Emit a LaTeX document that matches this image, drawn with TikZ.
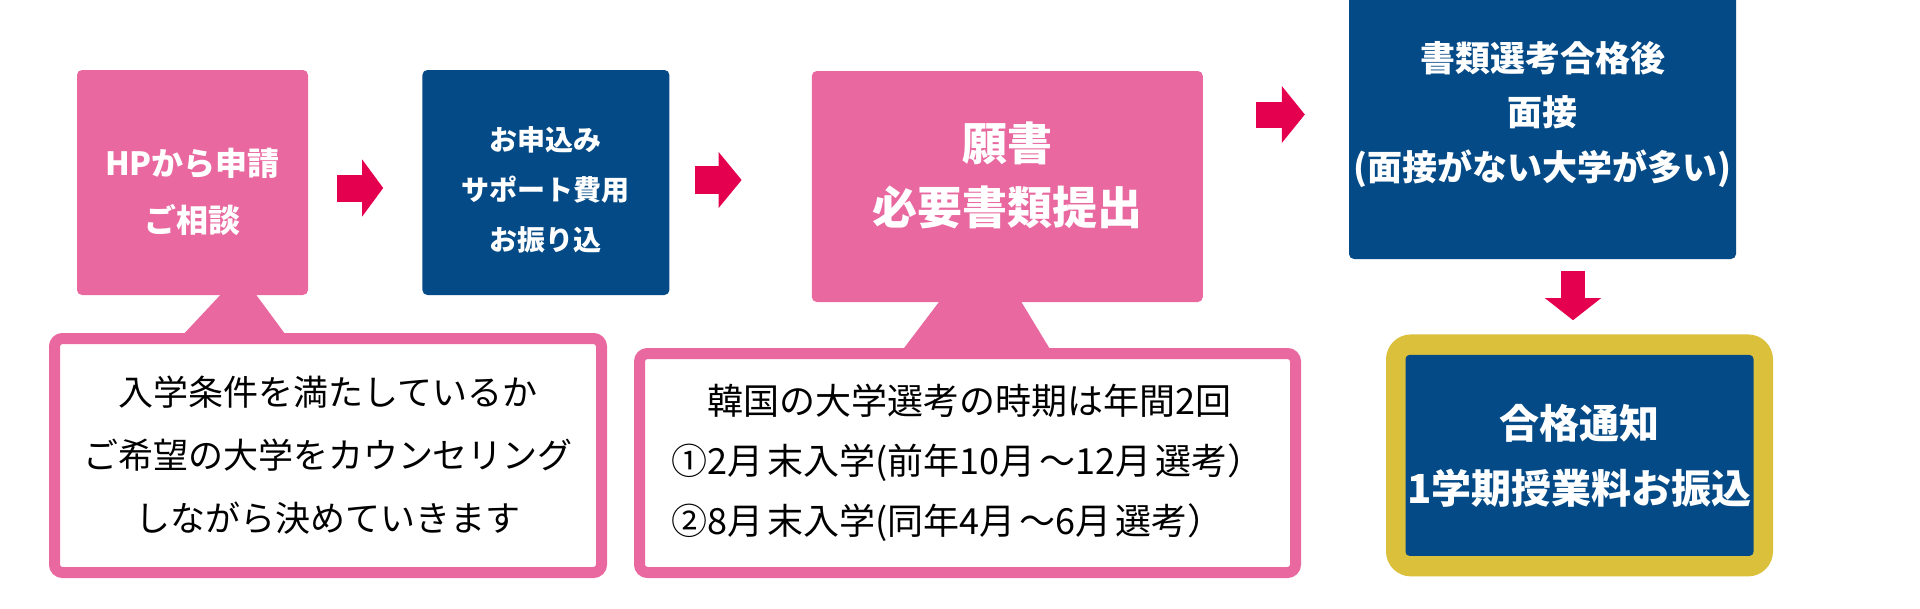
\documentclass[tikz,border=0pt]{standalone}
\usepackage{fontspec}
\setmainfont{Noto Sans CJK JP}
\usetikzlibrary{arrows.meta,positioning}
\definecolor{boxpink}{HTML}{E8689F}
\definecolor{boxnavy}{HTML}{034A86}
\definecolor{arrowred}{HTML}{E4004E}
\definecolor{framegold}{HTML}{DAC03B}
\tikzset{
  pinkbox/.style={fill=boxpink, rounded corners=5pt, inner sep=0pt},
  navybox/.style={fill=boxnavy, rounded corners=5pt, inner sep=0pt},
  boxtext/.style={text=white, align=center},
  goldframe/.style={fill=framegold, rounded corners=25pt, inner sep=0pt},
  note/.style={draw=boxpink, fill=white, line width=11pt, rounded corners=8pt, inner sep=0pt},
  bigarrow/.style={draw=arrowred, line width=27pt, -{Triangle[length=22pt,width=57pt,line width=0pt]}}
}
\newcommand{\gap}{\kern4pt}
\begin{document}
\begin{tikzpicture}[x=1pt,y=-1pt]
  \useasboundingbox (0,0) rectangle (1920,608);
  % steps
  \node[pinkbox, minimum width=231pt, minimum height=225pt] (apply) at (192.5,182.5) {};
  \node[navybox, minimum width=247pt, minimum height=225pt, right=114pt of apply] (payment) {};
  \node[pinkbox, minimum width=391pt, minimum height=231pt, anchor=north west] (documents) at ([xshift=142pt,yshift=-1pt]payment.north east) {};
  \node[navybox, boxtext, minimum width=387pt, minimum height=289pt, font=\fontsize{35}{54.5}\selectfont\bfseries] (interview) at (1542.5,114.5)
       {書類選考合格後\\面接\\(面接がない大学が多い)};
  \node[goldframe, minimum width=387pt, minimum height=242pt, below=75pt of interview, xshift=37pt] (pass) {};
  \node[navybox, boxtext, rounded corners=4pt, minimum width=348pt, minimum height=201pt, font=\fontsize{40}{65}\selectfont\bfseries] (result) at (pass.center)
       {合格通知\\1学期授業料お振込};
  \node[boxtext, font=\fontsize{32}{57}\selectfont\bfseries] (applytext) at ([yshift=-9pt]apply.center) {HPから申請\\ご相談};
  \node[boxtext, font=\fontsize{28}{50}\selectfont\bfseries] (paymenttext) at ([yshift=-7.5pt]payment.center) {お申込み\\サポート費用\\お振り込};
  \node[boxtext, font=\fontsize{45}{64}\selectfont\bfseries] (documentstext) at ([yshift=11.5pt]documents.center) {願書\\必要書類提出};
  % notes
  \node[note, align=center, minimum width=547pt, minimum height=234pt, anchor=north west, font=\fontsize{35}{63}\selectfont] (advice) at (49,333)
       {入学条件を満たしているか\\ご希望の大学をカウンセリング\\しながら決めていきます};
  \node[note, align=left, minimum width=656pt, minimum height=219pt, anchor=north west, font=\fontsize{36}{60}\selectfont] (schedule) at (634,348)
       {　韓国の大学選考の時期は年間2回\\①2月\gap 末入学(前年10月\gap ～12月\gap 選考）\\②8月\gap 末入学(同年4月\gap ～6月\gap 選考）};
  \fill[boxpink] ([xshift=29.5pt,yshift=2pt]apply.south) -- ([xshift=62.5pt,yshift=2pt]apply.south)
    -- ([xshift=95.5pt,yshift=-5pt]apply.south |- advice.north) -- ([xshift=-12.5pt,yshift=-5pt]apply.south |- advice.north) -- cycle;
  \fill[boxpink] ([xshift=-67pt,yshift=2pt]documents.south) -- ([xshift=13pt,yshift=2pt]documents.south)
    -- ([xshift=45pt,yshift=-5pt]documents.south |- schedule.north) -- ([xshift=-107pt,yshift=-5pt]documents.south |- schedule.north) -- cycle;
  % arrows
  \draw[bigarrow, -{Triangle[length=21pt,width=57pt,line width=0pt]}] ([xshift=29pt,yshift=-5.5pt]apply.east) -- ([xshift=-39pt,yshift=-5.5pt]payment.west);
  \draw[bigarrow, line width=28pt, -{Triangle[length=23pt,width=56pt,line width=0pt]}] ([xshift=25pt,yshift=2.5pt]payment.east) -- ([xshift=-70pt,yshift=6.5pt]documents.west);
  \draw[bigarrow, line width=26pt, -{Triangle[length=23pt,width=57pt,line width=0pt]}] ([xshift=53pt,yshift=72pt]documents.east) -- ([xshift=-44pt]interview.west);
  \draw[bigarrow, line width=24pt, -{Triangle[length=22pt,width=56pt,line width=0pt]}] ([xshift=30.5pt,yshift=-12pt]interview.south) -- ([xshift=-6.5pt,yshift=14pt]pass.north);
\end{tikzpicture}
\end{document}
